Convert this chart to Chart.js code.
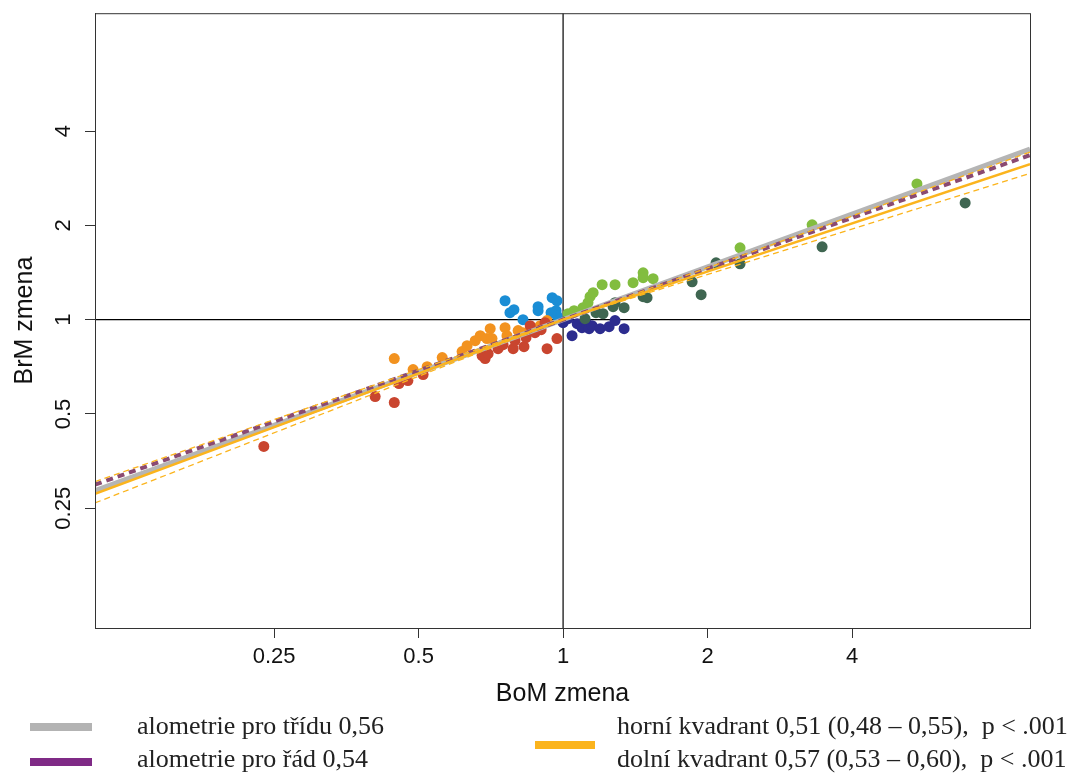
<!DOCTYPE html>
<html>
<head>
<meta charset="utf-8">
<script src="https://cdn.jsdelivr.net/npm/chart.js@4"></script>
<style>
  body { margin: 0; background: #fff; }
</style>
</head>
<body>
<canvas id="myChart" width="1091" height="773"></canvas>
<script>
// tick labels on both log2 axes
const axisTicks = [0.25, 0.5, 1, 2, 4];

// slopes of the allometric lines (from the legend)
const slopeClass = 0.56;
const slopeOrder = 0.54;
const slopeUpper = [0.51, 0.48, 0.55];   // fit, ci low, ci high
const slopeLower = [0.57, 0.53, 0.60];

// points, BoM change (x) vs BrM change (y)
const redX = [0.238, 0.406, 0.445, 0.455, 0.475, 0.511, 0.678, 0.688, 0.698, 0.732, 0.750, 0.787, 0.794, 0.829, 0.837, 0.874, 0.900, 0.926, 0.971, 0.854, 0.917];
const redY = [0.394, 0.568, 0.544, 0.625, 0.639, 0.668, 0.768, 0.751, 0.779, 0.808, 0.832, 0.808, 0.857, 0.820, 0.876, 0.909, 0.929, 0.808, 0.870, 0.957, 0.978];

const orangeX = [0.445, 0.487, 0.521, 0.560, 0.616, 0.631, 0.672, 0.705, 0.694, 0.656, 0.711, 0.757, 0.764, 0.806, 0.825, 0.926, 0.896];
const orangeY = [0.751, 0.693, 0.708, 0.757, 0.791, 0.826, 0.889, 0.936, 0.870, 0.857, 0.870, 0.943, 0.889, 0.923, 0.909, 0.993, 0.957];

const blueX = [0.757, 0.775, 0.790, 0.825, 0.887, 0.887, 0.949, 0.971, 0.967, 0.971, 0.944];
const blueY = [1.149, 1.053, 1.076, 1.000, 1.100, 1.068, 1.175, 1.149, 1.068, 1.030, 1.053];

const lightGreenX = [1.024, 1.054, 1.100, 1.127, 1.138, 1.155, 1.206, 1.283, 1.399, 1.468, 1.468, 1.540, 2.337, 3.302, 5.46];
const lightGreenY = [1.045, 1.068, 1.092, 1.133, 1.184, 1.219, 1.293, 1.293, 1.312, 1.411, 1.361, 1.351, 1.696, 2.007, 2.712];

const darkGreenX = [1.171, 1.211, 1.271, 1.283, 1.340, 1.468, 1.496, 1.857, 1.939, 2.083, 2.337, 3.464, 6.88, 1.111];
const darkGreenY = [1.053, 1.045, 1.100, 1.133, 1.092, 1.184, 1.175, 1.321, 1.201, 1.519, 1.508, 1.708, 2.359, 1.007];

const navyX = [1.000, 1.044, 1.070, 1.095, 1.117, 1.133, 1.149, 1.194, 1.247, 1.283, 1.340, 1.024];
const navyY = [0.978, 0.889, 0.971, 0.943, 0.978, 0.936, 0.957, 0.936, 0.950, 0.993, 0.936, 1.007];

const xMin = 0.1059, xMax = 9.39;
const yMin = 0.1037, yMax = 9.51;

function pts(xs, ys) {
  return xs.map((x, i) => ({ x: x, y: ys[i] }));
}
function fitLine(slope, x0, x1) {
  return [{ x: x0, y: Math.pow(x0, slope) }, { x: x1, y: Math.pow(x1, slope) }];
}
function dots(data, color) {
  return { data: data, backgroundColor: color, borderWidth: 0, pointRadius: 5.5, order: 5 };
}
function line(data, color, width, dash, order) {
  return {
    type: 'line', data: data, borderColor: color, borderWidth: width,
    borderDash: dash, pointRadius: 0, fill: false, order: order
  };
}

const orange = '#fbb41d';

const frameAndLegend = {
  id: 'frameAndLegend',
  afterDraw(chart) {
    const ctx = chart.ctx;
    const a = chart.chartArea;
    ctx.save();
    ctx.strokeStyle = '#333';
    ctx.lineWidth = 1;
    ctx.strokeRect(a.left + 0.5, a.top + 0.5, a.right - a.left, a.bottom - a.top);

    // legend
    ctx.lineWidth = 8;
    ctx.strokeStyle = '#b3b3b3';
    ctx.beginPath(); ctx.moveTo(30, 727); ctx.lineTo(92, 727); ctx.stroke();
    ctx.strokeStyle = '#7f2a86';
    ctx.beginPath(); ctx.moveTo(30, 762); ctx.lineTo(92, 762); ctx.stroke();
    ctx.strokeStyle = orange;
    ctx.beginPath(); ctx.moveTo(535, 745); ctx.lineTo(595, 745); ctx.stroke();

    ctx.fillStyle = '#222';
    ctx.font = '26px "Liberation Serif"';
    ctx.textBaseline = 'middle';
    ctx.textAlign = 'left';
    ctx.fillText('alometrie pro třídu 0,56', 137, 727);
    ctx.fillText('alometrie pro řád 0,54', 137, 760);
    ctx.fillText('horní kvadrant 0,51 (0,48 – 0,55),  p < .001', 617, 727, 470);
    ctx.fillText('dolní kvadrant 0,57 (0,53 – 0,60),  p < .001', 617, 760, 470);
    ctx.restore();
  }
};

const datasets = [
  line(fitLine(slopeClass, xMin, xMax), '#b5b5b5', 5, [], 4),
  line(fitLine(slopeOrder, xMin, xMax), '#8a4a72', 4, [7, 5], 3),
  line(fitLine(slopeUpper[0], 1, xMax), orange, 2.5, [], 2),
  line(fitLine(slopeLower[0], xMin, 1), orange, 2.5, [], 2),
  line(fitLine(slopeUpper[1], 1, xMax), orange, 1.3, [6, 4], 1),
  line(fitLine(slopeUpper[2], 1, xMax), orange, 1.3, [6, 4], 1),
  line(fitLine(slopeLower[1], xMin, 1), orange, 1.3, [6, 4], 1),
  line(fitLine(slopeLower[2], xMin, 1), orange, 1.3, [6, 4], 1),
  dots(pts(redX, redY), '#c9452f'),
  dots(pts(orangeX, orangeY), '#f2921f'),
  dots(pts(blueX, blueY), '#1a8dd5'),
  dots(pts(lightGreenX, lightGreenY), '#82bd3f'),
  dots(pts(darkGreenX, darkGreenY), '#3f6651'),
  dots(pts(navyX, navyY), '#2c2c8f'),
  line([{ x: 1, y: yMin }, { x: 1, y: yMax }], '#000', 1.2, [], 10),
  line([{ x: xMin, y: 1 }, { x: xMax, y: 1 }], '#000', 1.2, [], 10)
];

const axisFont = { family: '"Liberation Sans", Arial, sans-serif', size: 22 };
const titleFont = { family: '"Liberation Sans", Arial, sans-serif', size: 25 };

const config = {
  type: 'scatter',
  data: { datasets: datasets },
  options: {
    responsive: false,
    animation: false,
    events: [],
    layout: { padding: { left: 10, top: 12, right: 61, bottom: 64 } },
    plugins: { legend: { display: false }, tooltip: { enabled: false } },
    scales: {
      x: {
        type: 'logarithmic',
        min: xMin,
        max: xMax,
        afterBuildTicks: (s) => { s.ticks = axisTicks.map(v => ({ value: v })); },
        afterFit: (s) => { s.height = 81; },
        ticks: {
          color: '#111', font: axisFont, padding: 6, autoSkip: false,
          maxRotation: 0, callback: (v) => String(v)
        },
        grid: { drawOnChartArea: false, drawTicks: true, tickLength: 10, color: '#333' },
        border: { display: true, color: '#333' },
        title: { display: true, text: 'BoM zmena', color: '#111', font: titleFont, padding: 0 }
      },
      y: {
        type: 'logarithmic',
        min: yMin,
        max: yMax,
        afterBuildTicks: (s) => { s.ticks = axisTicks.map(v => ({ value: v })); },
        afterFit: (s) => { s.width = 85; },
        ticks: {
          color: '#111', font: axisFont, padding: 0, autoSkip: false,
          minRotation: 90, maxRotation: 90, crossAlign: 'center',
          callback: (v) => String(v)
        },
        grid: { drawOnChartArea: false, drawTicks: true, tickLength: 10, color: '#333' },
        border: { display: true, color: '#333' },
        title: { display: true, text: 'BrM zmena', color: '#111', font: titleFont, padding: 0 }
      }
    }
  },
  plugins: [frameAndLegend]
};

const myChart = new Chart(document.getElementById('myChart'), config);
</script>
</body>
</html>
